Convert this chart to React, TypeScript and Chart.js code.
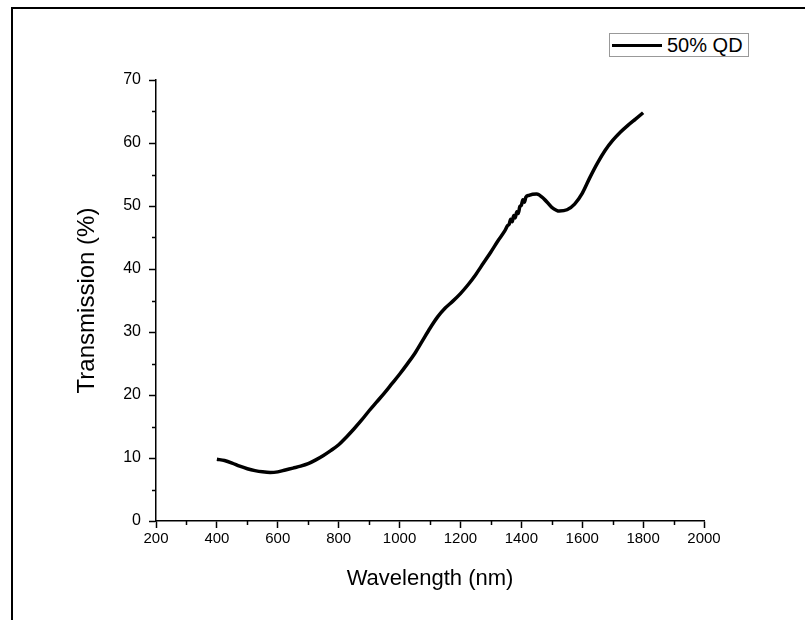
import React, { useEffect, useRef } from 'react';
import { Chart, registerables } from 'chart.js';

Chart.register(...registerables);

const seriesLabel = '50% QD';
const xTitle = 'Wavelength (nm)';
const yTitle = 'Transmission (%)';

const wavelengths = [
  400, 425, 450, 475, 500, 525, 550, 575, 600, 625, 650, 675, 700, 725, 750, 775,
  800, 825, 850, 875, 900, 925, 950, 975, 1000, 1025, 1050, 1075, 1100, 1125, 1150,
  1175, 1200, 1225, 1250, 1275, 1300, 1325, 1345, 1355, 1360, 1365, 1370, 1375, 1380,
  1385, 1390, 1395, 1400, 1405, 1410, 1415, 1425, 1450, 1475, 1500, 1525, 1550, 1575,
  1600, 1625, 1650, 1675, 1700, 1725, 1750, 1775, 1800,
];

const transmission = [
  9.8, 9.6, 9.2, 8.7, 8.3, 8.0, 7.8, 7.7, 7.8, 8.1, 8.4, 8.7, 9.1, 9.7, 10.4, 11.2,
  12.1, 13.3, 14.6, 16.0, 17.5, 18.9, 20.3, 21.8, 23.3, 24.9, 26.6, 28.6, 30.6, 32.4, 33.8,
  34.9, 36.1, 37.5, 39.1, 40.9, 42.7, 44.6, 46.0, 46.9, 47.1, 47.9, 47.5, 48.5, 48.1,
  49.1, 48.8, 49.9, 50.1, 51.0, 50.6, 51.4, 51.7, 51.9, 51.1, 49.8, 49.2, 49.4, 50.3,
  52.0, 54.5, 56.8, 58.8, 60.4, 61.7, 62.8, 63.8, 64.8,
];

const xMin = 200;
const xMax = 2000;
const xStep = 200;
const yMin = 0;
const yMax = 70;
const yStep = 10;

const minorTicks = {
  id: 'minorTicks',
  afterDraw(chart: any) {
    const { ctx, scales } = chart;
    const xs = scales.x;
    const ys = scales.y;
    ctx.save();
    ctx.strokeStyle = '#000';
    ctx.lineWidth = 1.5;
    ctx.beginPath();
    for (let v = xMin + xStep / 2; v < xMax; v += xStep) {
      const px = Math.round(xs.getPixelForValue(v)) + 0.5;
      ctx.moveTo(px, ys.bottom);
      ctx.lineTo(px, ys.bottom + 4);
    }
    for (let v = yMin + yStep / 2; v < yMax; v += yStep) {
      const py = Math.round(ys.getPixelForValue(v)) + 0.5;
      ctx.moveTo(xs.left - 4, py);
      ctx.lineTo(xs.left, py);
    }
    ctx.stroke();
    ctx.restore();
  },
};

export default function App() {
  const canvasRef = useRef<HTMLCanvasElement | null>(null);

  useEffect(() => {
    const canvas = canvasRef.current;
    if (!canvas) return;
    const points = wavelengths.map((w, i) => ({ x: w, y: transmission[i] }));
    const fontFamily = '"Liberation Sans", Arial, sans-serif';
    const chart = new Chart(canvas, {
      type: 'line',
      data: {
        datasets: [
          {
            label: seriesLabel,
            data: points,
            borderColor: '#000',
            borderWidth: 3.5,
            pointRadius: 0,
            fill: false,
            tension: 0.4,
            cubicInterpolationMode: 'monotone',
          },
        ],
      },
      options: {
        animation: false,
        responsive: false,
        maintainAspectRatio: false,
        layout: { padding: { left: 0, top: 80, right: 101, bottom: 0 } },
        plugins: {
          legend: { display: false },
          tooltip: { enabled: false },
        },
        scales: {
          x: {
            type: 'linear',
            min: xMin,
            max: xMax,
            ticks: {
              stepSize: xStep,
              color: '#000',
              font: { family: fontFamily, size: 15 },
              padding: 2,
              maxRotation: 0,
              callback: (v: any) => String(v),
            },
            grid: {
              drawOnChartArea: false,
              drawTicks: true,
              tickLength: 7,
              tickColor: '#000',
              tickWidth: 1.5,
            },
            border: { display: true, color: '#000', width: 1.5 },
            title: {
              display: true,
              text: xTitle,
              color: '#000',
              font: { family: fontFamily, size: 22 },
              padding: { top: 0, bottom: 28 },
            },
            afterFit(scale: any) {
              scale.height = 99;
            },
          },
          y: {
            type: 'linear',
            min: yMin,
            max: yMax,
            ticks: {
              stepSize: yStep,
              color: '#000',
              font: { family: fontFamily, size: 16 },
              padding: 8,
              callback: (v: any) => String(v),
            },
            grid: {
              drawOnChartArea: false,
              drawTicks: true,
              tickLength: 7,
              tickColor: '#000',
              tickWidth: 1.5,
            },
            border: { display: true, color: '#000', width: 1.5 },
            title: {
              display: true,
              text: yTitle,
              color: '#000',
              font: { family: fontFamily, size: 24 },
              padding: { top: 73, bottom: 0 },
            },
            afterFit(scale: any) {
              scale.width = 156;
            },
          },
        },
      },
      plugins: [minorTicks],
    });
    return () => chart.destroy();
  }, []);

  return (
    <div style={{ position: 'fixed', left: 0, top: 0, width: 805, height: 620, background: '#fff', overflow: 'hidden' }}>
      <div
        style={{
          position: 'absolute',
          left: 11,
          top: 7,
          right: -10,
          bottom: -10,
          borderTop: '2px solid #000',
          borderLeft: '2px solid #000',
        }}
      />
      <canvas ref={canvasRef} width={805} height={620} style={{ position: 'absolute', left: 0, top: 0, width: 805, height: 620 }} />
      <div
        style={{
          position: 'absolute',
          left: 609,
          top: 33,
          width: 138,
          height: 22,
          border: '1px solid #999',
          background: '#fff',
          display: 'flex',
          alignItems: 'center',
          fontFamily: '"Liberation Sans", Arial, sans-serif',
          fontSize: 20,
          color: '#000',
          boxSizing: 'content-box',
          whiteSpace: 'nowrap',
        }}
      >
        <span style={{ display: 'inline-block', width: 50, height: 3, background: '#000', marginLeft: 2, marginRight: 5 }} />
        <span style={{ lineHeight: '22px' }}>{seriesLabel}</span>
      </div>
    </div>
  );
}
